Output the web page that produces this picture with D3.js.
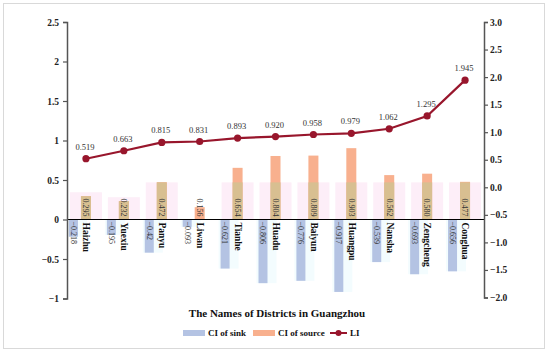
<!DOCTYPE html>
<html>
<head>
<meta charset="utf-8">
<script src="https://cdn.jsdelivr.net/npm/d3@7"></script>
<style>
  body { margin: 0; background: #fff; }
  svg text { font-family: "Liberation Serif", "Times New Roman", serif; }
</style>
</head>
<body>
<div id="chart"></div>
<script>
// DATA
const districts = ["Haizhu", "Yuexiu", "Panyu", "Liwan", "Tianhe", "Huadu", "Baiyun", "Huangpu", "Nansha", "Zengcheng", "Conghua"];
const sinkCI = [-0.218, -0.195, -0.42, -0.093, -0.621, -0.806, -0.776, -0.917, -0.539, -0.693, -0.656];
const sourceCI = [0.295, 0.232, 0.472, 0.156, 0.654, 0.804, 0.809, 0.903, 0.562, 0.580, 0.477];
const LI = [0.519, 0.663, 0.815, 0.831, 0.893, 0.920, 0.958, 0.979, 1.062, 1.295, 1.945];
const leftTicks = [-1, -0.5, 0, 0.5, 1, 1.5, 2, 2.5];
const rightTicks = [-2, -1.5, -1, -0.5, 0, 0.5, 1, 1.5, 2, 2.5, 3];

const width = 550, height = 353;
const margin = {top: 22, right: 66, bottom: 54, left: 67};

const svg = d3.select("#chart").append("svg")
  .attr("width", width)
  .attr("height", height);

// frame
svg.append("rect")
  .attr("x", 3.5).attr("y", 3.5)
  .attr("width", 541).attr("height", 345)
  .attr("fill", "#fff")
  .attr("stroke", "#d9d9d9");

// SCALES
const x = d3.scaleBand()
  .domain(districts)
  .range([margin.left, width - margin.right])
  .padding(0);

const yL = d3.scaleLinear().domain([-1, 2.5]).range([height - margin.bottom - 0.5, margin.top]);
const yR = d3.scaleLinear().domain([-2, 3]).range([height - margin.bottom - 1.5, margin.top]);

const cx = d => x(d) + x.bandwidth() / 2;
const minus = s => s.replace("-", "\u2212");

const data = districts.map((d, i) => ({
  name: d, sink: sinkCI[i], source: sourceCI[i], li: LI[i],
  glow: sourceCI[i] > 0.2 ? Math.min(sourceCI[i] + 0.05, 0.47) : null
}));

// soft glow behind bars
svg.append("g").selectAll("rect")
  .data(data.filter(d => d.glow !== null))
  .join("rect")
  .attr("x", d => cx(d.name) - 16)
  .attr("width", 32)
  .attr("y", d => yL(d.glow))
  .attr("height", d => yL(0) - yL(d.glow))
  .attr("fill", "#fdeef8");

svg.append("g").selectAll("rect")
  .data(data)
  .join("rect")
  .attr("x", d => cx(d.name) - 19)
  .attr("width", 20)
  .attr("y", yL(0))
  .attr("height", d => yL(d.sink) - yL(0))
  .attr("fill", "#f3fcfe");

// CI of sink
svg.append("g").selectAll("rect")
  .data(data)
  .join("rect")
  .attr("x", d => cx(d.name) - 17)
  .attr("width", 9)
  .attr("y", yL(0))
  .attr("height", d => yL(d.sink) - yL(0))
  .attr("fill", "#b4c3e3");

// CI of source
svg.append("g").selectAll("rect")
  .data(data)
  .join("rect")
  .attr("x", d => cx(d.name) - 5)
  .attr("width", 10)
  .attr("y", d => yL(d.source))
  .attr("height", d => yL(0) - yL(d.source))
  .attr("fill", "#f8b08e");

svg.append("g").selectAll("rect")
  .data(data.filter(d => d.glow !== null))
  .join("rect")
  .attr("x", d => cx(d.name) - 5)
  .attr("width", 10)
  .attr("y", d => yL(Math.min(d.source, d.glow)))
  .attr("height", d => yL(0) - yL(Math.min(d.source, d.glow)))
  .attr("fill", "#d8bf91");

// zero line
svg.append("line")
  .attr("x1", margin.left).attr("x2", width - margin.right)
  .attr("y1", yL(0)).attr("y2", yL(0))
  .attr("stroke", "#000").attr("stroke-width", 1.2);

// AXES
const axL = svg.append("g")
  .attr("transform", `translate(${margin.left},0)`)
  .call(d3.axisLeft(yL).tickValues(leftTicks).tickSize(4).tickFormat(d => minus(String(d))));
const axR = svg.append("g")
  .attr("transform", `translate(${width - margin.right},0)`)
  .call(d3.axisRight(yR).tickValues(rightTicks).tickSize(4).tickFormat(d => minus(d3.format(".1f")(d))));

[axL, axR].forEach(ax => {
  ax.attr("font-family", "Liberation Serif, serif");
  ax.select(".domain").attr("stroke", "#555").attr("stroke-width", 1.5);
  ax.selectAll(".tick line").attr("stroke", "#555").attr("stroke-width", 1.2);
  ax.selectAll(".tick text")
    .attr("font-weight", "bold")
    .attr("font-size", 9.5)
    .attr("fill", "#222");
});
axL.selectAll(".tick text").attr("x", -8);
axR.selectAll(".tick text").attr("x", 6);

// value labels
svg.append("g").selectAll("text")
  .data(data)
  .join("text")
  .attr("transform", d => `translate(${cx(d.name) - 12.5},${yL(0) + 2}) rotate(90)`)
  .attr("dy", "0.33em")
  .attr("font-size", 8)
  .attr("fill", "#333")
  .text(d => minus(String(d.sink)));

svg.append("g").selectAll("text")
  .data(data)
  .join("text")
  .attr("transform", d => `translate(${cx(d.name)},${yL(0) - 3}) rotate(90)`)
  .attr("dy", "0.33em")
  .attr("text-anchor", "end")
  .attr("font-size", 8)
  .attr("fill", "#333")
  .text(d => d3.format(".3f")(d.source));

// category labels
svg.append("g").selectAll("text")
  .data(data)
  .join("text")
  .attr("transform", d => `translate(${cx(d.name) + 0.5},${yL(0) + 3}) rotate(90)`)
  .attr("dy", "0.33em")
  .attr("font-size", 9.5)
  .attr("font-weight", "bold")
  .attr("fill", "#111")
  .text(d => d.name);

// LI line
const line = d3.line().x(d => cx(d.name)).y(d => yR(d.li));
svg.append("path")
  .datum(data)
  .attr("d", line)
  .attr("fill", "none")
  .attr("stroke", "#98162c")
  .attr("stroke-width", 2.2);

svg.append("g").selectAll("circle")
  .data(data)
  .join("circle")
  .attr("cx", d => cx(d.name))
  .attr("cy", d => yR(d.li))
  .attr("r", 3.6)
  .attr("fill", "#98162c");

svg.append("g").selectAll("text")
  .data(data)
  .join("text")
  .attr("x", d => cx(d.name) - 1)
  .attr("y", d => yR(d.li) - 9)
  .attr("text-anchor", "middle")
  .attr("font-size", 8.5)
  .attr("fill", "#333")
  .text(d => d3.format(".3f")(d.li));

// X TITLE
svg.append("text")
  .attr("x", 277)
  .attr("y", 317)
  .attr("text-anchor", "middle")
  .attr("font-size", 11)
  .attr("font-weight", "bold")
  .attr("fill", "#111")
  .text("The Names of Districts in Guangzhou");

// LEGEND
const legend = svg.append("g").attr("transform", "translate(0,333)");
legend.append("rect").attr("x", 183).attr("y", -3).attr("width", 22).attr("height", 6).attr("fill", "#b4c3e3");
legend.append("text").attr("x", 208).attr("y", 3).attr("font-size", 9).attr("font-weight", "bold").attr("fill", "#111").text("CI of sink");
legend.append("rect").attr("x", 253).attr("y", -3).attr("width", 22).attr("height", 6).attr("fill", "#f8b08e");
legend.append("text").attr("x", 278).attr("y", 3).attr("font-size", 9).attr("font-weight", "bold").attr("fill", "#111").text("CI of source");
legend.append("line").attr("x1", 330).attr("x2", 347).attr("y1", 0).attr("y2", 0).attr("stroke", "#98162c").attr("stroke-width", 2);
legend.append("circle").attr("cx", 338.5).attr("cy", 0).attr("r", 3).attr("fill", "#98162c");
legend.append("text").attr("x", 350).attr("y", 3).attr("font-size", 9).attr("font-weight", "bold").attr("fill", "#111").text("LI");
</script>
</body>
</html>
